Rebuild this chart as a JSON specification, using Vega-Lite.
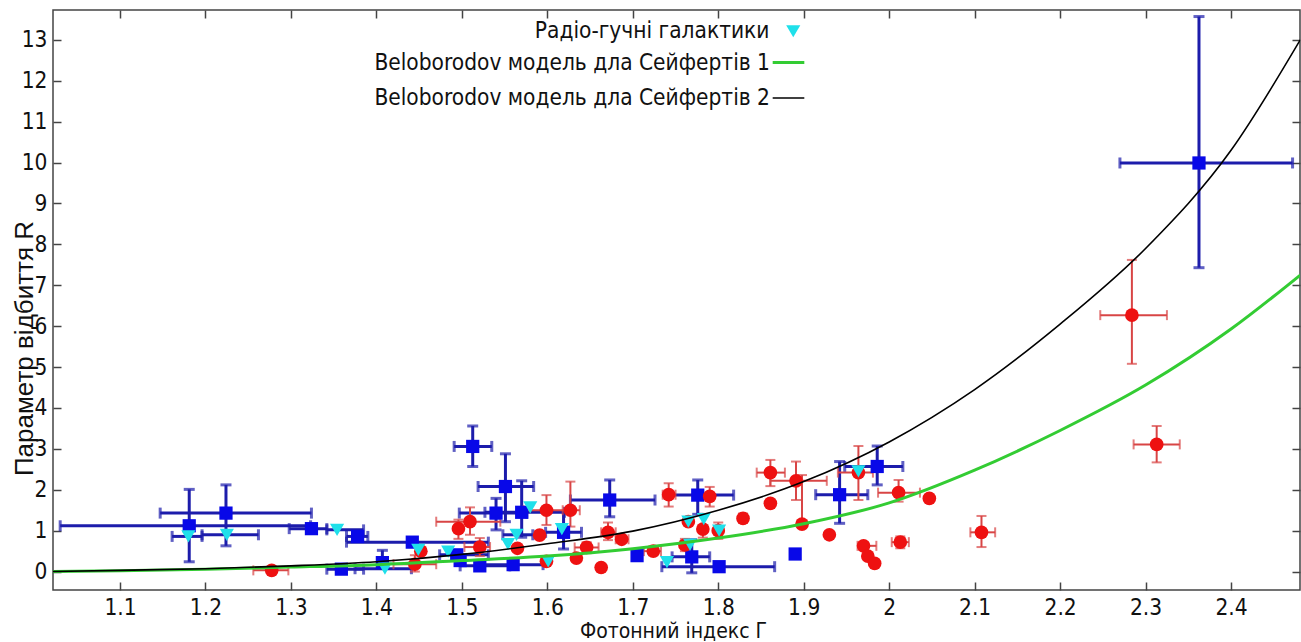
{
  "$schema": "https://vega.github.io/schema/vega-lite/v6.json",
  "width": 1247,
  "height": 580,
  "autosize": {"type": "none"},
  "padding": {"left": 53, "top": 10, "right": 1, "bottom": 52},
  "background": "white",
  "config": {
    "view": {"stroke": "#444444", "strokeWidth": 1.5},
    "font": "DejaVu Sans Condensed, DejaVu Sans",
    "axis": {
      "grid": false,
      "domain": false,
      "tickColor": "#444444",
      "tickWidth": 1.5,
      "tickSize": -8,
      "labelFont": "DejaVu Sans Condensed, DejaVu Sans",
      "labelFontSize": 22.5,
      "labelColor": "#111111",
      "titleFontWeight": "normal",
      "titleColor": "#111111"
    },
    "legend": {
      "labelFont": "DejaVu Sans Condensed, DejaVu Sans",
      "labelFontSize": 22.5,
      "labelColor": "#111111",
      "labelLimit": 0,
      "padding": 0
    }
  },
  "datasets": {
    "pts": [
      {"s": "Сейферти 2", "G": 1.181, "R": 1.12, "Gl": 1.03, "Gh": 1.323, "Rl": 0.24, "Rh": 2.01},
      {"s": "Сейферти 2", "G": 1.224, "R": 1.43, "Gl": 1.147, "Gh": 1.324, "Rl": 0.63, "Rh": 2.12},
      {"s": "Сейферти 2", "G": 1.324, "R": 1.05, "Gl": 1.298, "Gh": 1.342},
      {"s": "Сейферти 2", "G": 1.378, "R": 0.86, "Gl": 1.365, "Gh": 1.39},
      {"s": "Сейферти 2", "G": 1.442, "R": 0.72, "Gl": 1.365, "Gh": 1.531},
      {"s": "Сейферти 2", "G": 1.359, "R": 0.06, "Gl": 1.342, "Gh": 1.385},
      {"s": "Сейферти 2", "G": 1.407, "R": 0.22, "Rl": 0.08, "Rh": 0.52},
      {"s": "Сейферти 2", "G": 1.5127, "R": 3.06, "Gl": 1.491, "Gh": 1.535, "Rl": 2.57, "Rh": 3.56},
      {"s": "Сейферти 2", "G": 1.551, "R": 2.08, "Gl": 1.519, "Gh": 1.584, "Rl": 1.22, "Rh": 2.88},
      {"s": "Сейферти 2", "G": 1.54, "R": 1.43, "Gl": 1.497, "Gh": 1.576, "Rl": 1.02, "Rh": 1.79},
      {"s": "Сейферти 2", "G": 1.57, "R": 1.45, "Gl": 1.527, "Gh": 1.62, "Rl": 0.84, "Rh": 2.22},
      {"s": "Сейферти 2", "G": 1.494, "R": 0.41, "Gl": 1.474, "Gh": 1.531},
      {"s": "Сейферти 2", "G": 1.498, "R": 0.27},
      {"s": "Сейферти 2", "G": 1.521, "R": 0.14, "Gl": 1.498, "Gh": 1.556},
      {"s": "Сейферти 2", "G": 1.56, "R": 0.17, "Gl": 1.521, "Gh": 1.595},
      {"s": "Сейферти 2", "G": 1.619, "R": 0.96, "Gl": 1.598, "Gh": 1.64, "Rl": 0.55, "Rh": 1.47},
      {"s": "Сейферти 2", "G": 1.673, "R": 1.75, "Gl": 1.627, "Gh": 1.726, "Rl": 1.34, "Rh": 2.24},
      {"s": "Сейферти 2", "G": 1.705, "R": 0.39},
      {"s": "Сейферти 2", "G": 1.769, "R": 0.36, "Gl": 1.746, "Gh": 1.79, "Rl": -0.03, "Rh": 0.78},
      {"s": "Сейферти 2", "G": 1.801, "R": 0.12, "Gl": 1.734, "Gh": 1.866},
      {"s": "Сейферти 2", "G": 1.776, "R": 1.87, "Gl": 1.744, "Gh": 1.818, "Rl": 1.4, "Rh": 2.24},
      {"s": "Сейферти 2", "G": 1.89, "R": 0.43},
      {"s": "Сейферти 2", "G": 1.942, "R": 1.88, "Gl": 1.914, "Gh": 1.975, "Rl": 1.18, "Rh": 2.69},
      {"s": "Сейферти 2", "G": 1.986, "R": 2.57, "Gl": 1.948, "Gh": 2.016, "Rl": 2.12, "Rh": 3.07},
      {"s": "Сейферти 2", "G": 2.3625, "R": 9.99, "Gl": 2.27, "Gh": 2.472, "Rl": 7.43, "Rh": 13.57},
      {"s": "Сейферти 1", "G": 1.2775, "R": 0.03, "Gl": 1.256, "Gh": 1.297},
      {"s": "Сейферти 1", "G": 1.445, "R": 0.18, "Gl": 1.42, "Gh": 1.47, "Rl": 0.0, "Rh": 0.4},
      {"s": "Сейферти 1", "G": 1.452, "R": 0.5},
      {"s": "Сейферти 1", "G": 1.5095, "R": 1.22, "Gl": 1.47, "Gh": 1.545, "Rl": 0.9, "Rh": 1.57},
      {"s": "Сейферти 1", "G": 1.496, "R": 1.05, "Rl": 0.8, "Rh": 1.27},
      {"s": "Сейферти 1", "G": 1.521, "R": 0.6, "Gl": 1.503, "Gh": 1.533, "Rl": 0.38, "Rh": 0.82},
      {"s": "Сейферти 1", "G": 1.565, "R": 0.57},
      {"s": "Сейферти 1", "G": 1.599, "R": 1.5, "Gl": 1.572, "Gh": 1.627, "Rl": 1.14, "Rh": 1.87},
      {"s": "Сейферти 1", "G": 1.627, "R": 1.5, "Gl": 1.618, "Gh": 1.638, "Rl": 1.1, "Rh": 2.2},
      {"s": "Сейферти 1", "G": 1.591, "R": 0.89},
      {"s": "Сейферти 1", "G": 1.599, "R": 0.25},
      {"s": "Сейферти 1", "G": 1.634, "R": 0.33},
      {"s": "Сейферти 1", "G": 1.646, "R": 0.59, "Gl": 1.632, "Gh": 1.66, "Rl": 0.45, "Rh": 0.72},
      {"s": "Сейферти 1", "G": 1.663, "R": 0.1},
      {"s": "Сейферти 1", "G": 1.671, "R": 0.96, "Gl": 1.663, "Gh": 1.68, "Rl": 0.77, "Rh": 1.2},
      {"s": "Сейферти 1", "G": 1.687, "R": 0.79, "Gl": 1.68, "Gh": 1.695},
      {"s": "Сейферти 1", "G": 1.724, "R": 0.5, "Gl": 1.713, "Gh": 1.733, "Rl": 0.4, "Rh": 0.62},
      {"s": "Сейферти 1", "G": 1.742, "R": 1.88, "Gl": 1.735, "Gh": 1.75, "Rl": 1.59, "Rh": 2.16},
      {"s": "Сейферти 1", "G": 1.79, "R": 1.84, "Rl": 1.59, "Rh": 2.07},
      {"s": "Сейферти 1", "G": 1.761, "R": 0.65, "Rl": 0.5, "Rh": 0.8},
      {"s": "Сейферти 1", "G": 1.765, "R": 1.22},
      {"s": "Сейферти 1", "G": 1.782, "R": 1.04, "Rl": 0.83, "Rh": 1.41},
      {"s": "Сейферти 1", "G": 1.8, "R": 1.0, "Rl": 0.8, "Rh": 1.2},
      {"s": "Сейферти 1", "G": 1.829, "R": 1.3, "Rl": 1.2, "Rh": 1.42},
      {"s": "Сейферти 1", "G": 1.861, "R": 1.67},
      {"s": "Сейферти 1", "G": 1.861, "R": 2.42, "Gl": 1.845, "Gh": 1.878, "Rl": 2.09, "Rh": 2.73},
      {"s": "Сейферти 1", "G": 1.891, "R": 2.22, "Gl": 1.861, "Gh": 1.927, "Rl": 1.75, "Rh": 2.69},
      {"s": "Сейферти 1", "G": 1.898, "R": 1.16, "Rl": 1.16, "Rh": 2.36},
      {"s": "Сейферти 1", "G": 1.93, "R": 0.9},
      {"s": "Сейферти 1", "G": 1.964, "R": 2.42, "Gl": 1.94, "Gh": 1.981, "Rl": 1.75, "Rh": 3.07},
      {"s": "Сейферти 1", "G": 2.011, "R": 1.93, "Gl": 1.987, "Gh": 2.036, "Rl": 1.71, "Rh": 2.24},
      {"s": "Сейферти 1", "G": 2.047, "R": 1.79},
      {"s": "Сейферти 1", "G": 1.97, "R": 0.63, "Gl": 1.963, "Gh": 1.985, "Rl": 0.55, "Rh": 0.72},
      {"s": "Сейферти 1", "G": 1.975, "R": 0.38},
      {"s": "Сейферти 1", "G": 1.983, "R": 0.2},
      {"s": "Сейферти 1", "G": 2.013, "R": 0.72, "Gl": 2.003, "Gh": 2.023, "Rl": 0.57, "Rh": 0.86},
      {"s": "Сейферти 1", "G": 2.108, "R": 0.96, "Gl": 2.095, "Gh": 2.124, "Rl": 0.6, "Rh": 1.36},
      {"s": "Сейферти 1", "G": 2.284, "R": 6.27, "Gl": 2.247, "Gh": 2.325, "Rl": 5.08, "Rh": 7.62},
      {"s": "Сейферти 1", "G": 2.313, "R": 3.11, "Gl": 2.286, "Gh": 2.34, "Rl": 2.67, "Rh": 3.56},
      {"s": "Радіо-гучні галактики", "G": 1.18, "R": 0.86, "Gl": 1.161, "Gh": 1.196},
      {"s": "Радіо-гучні галактики", "G": 1.225, "R": 0.9, "Gl": 1.196, "Gh": 1.262},
      {"s": "Радіо-гучні галактики", "G": 1.354, "R": 1.02, "Gl": 1.342, "Gh": 1.385},
      {"s": "Радіо-гучні галактики", "G": 1.41, "R": 0.07, "Gl": 1.375, "Gh": 1.441},
      {"s": "Радіо-гучні галактики", "G": 1.449, "R": 0.53},
      {"s": "Радіо-гучні галактики", "G": 1.484, "R": 0.49},
      {"s": "Радіо-гучні галактики", "G": 1.554, "R": 0.67},
      {"s": "Радіо-гучні галактики", "G": 1.564, "R": 0.9, "Gl": 1.548, "Gh": 1.583},
      {"s": "Радіо-гучні галактики", "G": 1.58, "R": 1.57},
      {"s": "Радіо-гучні галактики", "G": 1.617, "R": 1.04},
      {"s": "Радіо-гучні галактики", "G": 1.601, "R": 0.25},
      {"s": "Радіо-гучні галактики", "G": 1.74, "R": 0.23},
      {"s": "Радіо-гучні галактики", "G": 1.767, "R": 0.66},
      {"s": "Радіо-гучні галактики", "G": 1.765, "R": 1.22},
      {"s": "Радіо-гучні галактики", "G": 1.783, "R": 1.28},
      {"s": "Радіо-гучні галактики", "G": 1.801, "R": 1.0},
      {"s": "Радіо-гучні галактики", "G": 1.964, "R": 2.45}
    ],
    "curves": [
      {"m": "Beloborodov модель дла Сейфертів 1", "G": 1.02, "R": 0.0},
      {"m": "Beloborodov модель дла Сейфертів 1", "G": 1.1, "R": 0.02},
      {"m": "Beloborodov модель дла Сейфертів 1", "G": 1.2, "R": 0.06},
      {"m": "Beloborodov модель дла Сейфертів 1", "G": 1.3, "R": 0.11},
      {"m": "Beloborodov модель дла Сейфертів 1", "G": 1.4, "R": 0.17},
      {"m": "Beloborodov модель дла Сейфертів 1", "G": 1.5, "R": 0.27},
      {"m": "Beloborodov модель дла Сейфертів 1", "G": 1.6, "R": 0.38},
      {"m": "Beloborodov модель дла Сейфертів 1", "G": 1.7, "R": 0.56},
      {"m": "Beloborodov модель дла Сейфертів 1", "G": 1.8, "R": 0.82},
      {"m": "Beloborodov модель дла Сейфертів 1", "G": 1.9, "R": 1.17},
      {"m": "Beloborodov модель дла Сейфертів 1", "G": 2.0, "R": 1.68},
      {"m": "Beloborodov модель дла Сейфертів 1", "G": 2.1, "R": 2.48},
      {"m": "Beloborodov модель дла Сейфертів 1", "G": 2.2, "R": 3.45},
      {"m": "Beloborodov модель дла Сейфертів 1", "G": 2.3, "R": 4.56},
      {"m": "Beloborodov модель дла Сейфертів 1", "G": 2.4, "R": 5.93},
      {"m": "Beloborodov модель дла Сейфертів 1", "G": 2.481, "R": 7.25},
      {"m": "Beloborodov модель дла Сейфертів 2", "G": 1.02, "R": 0.0},
      {"m": "Beloborodov модель дла Сейфертів 2", "G": 1.1, "R": 0.03},
      {"m": "Beloborodov модель дла Сейфертів 2", "G": 1.2, "R": 0.07},
      {"m": "Beloborodov модель дла Сейфертів 2", "G": 1.3, "R": 0.14},
      {"m": "Beloborodov модель дла Сейфертів 2", "G": 1.4, "R": 0.24},
      {"m": "Beloborodov модель дла Сейфертів 2", "G": 1.5, "R": 0.42},
      {"m": "Beloborodov модель дла Сейфертів 2", "G": 1.6, "R": 0.68},
      {"m": "Beloborodov модель дла Сейфертів 2", "G": 1.7, "R": 0.99},
      {"m": "Beloborodov модель дла Сейфертів 2", "G": 1.8, "R": 1.5},
      {"m": "Beloborodov модель дла Сейфертів 2", "G": 1.9, "R": 2.2},
      {"m": "Beloborodov модель дла Сейфертів 2", "G": 2.0, "R": 3.17},
      {"m": "Beloborodov модель дла Сейфертів 2", "G": 2.1, "R": 4.45},
      {"m": "Beloborodov модель дла Сейфертів 2", "G": 2.2, "R": 6.05},
      {"m": "Beloborodov модель дла Сейфертів 2", "G": 2.3, "R": 7.9},
      {"m": "Beloborodov модель дла Сейфертів 2", "G": 2.4, "R": 10.3},
      {"m": "Beloborodov модель дла Сейфертів 2", "G": 2.481, "R": 13.0}
    ]
  },
  "resolve": {"axis": {"x": "independent", "y": "independent"}},
  "layer": [
    {
      "data": {"name": "pts"},
      "transform": [{"filter": "isValid(datum.Gl) && datum.s != 'Сейферти 1'"}],
      "mark": {"type": "errorbar", "ticks": true, "size": 11, "thickness": 3, "color": "#1c1cab", "clip": true},
      "encoding": {
        "x": {"field": "Gl", "type": "quantitative", "scale": {"domain": [1.0216, 2.4807], "nice": false, "zero": false}, "axis": null},
        "x2": {"field": "Gh"},
        "y": {"field": "R", "type": "quantitative", "scale": {"domain": [-0.45, 13.73], "nice": false, "zero": false}, "axis": null}
      }
    },
    {
      "data": {"name": "pts"},
      "transform": [{"filter": "isValid(datum.Rl) && datum.s != 'Сейферти 1'"}],
      "mark": {"type": "errorbar", "ticks": true, "size": 11, "thickness": 3, "color": "#1c1cab", "clip": true},
      "encoding": {
        "x": {"field": "G", "type": "quantitative", "scale": {"domain": [1.0216, 2.4807], "nice": false, "zero": false}, "axis": null},
        "y": {"field": "Rl", "type": "quantitative", "scale": {"domain": [-0.45, 13.73], "nice": false, "zero": false}, "axis": null},
        "y2": {"field": "Rh"}
      }
    },
    {
      "data": {"name": "pts"},
      "transform": [{"filter": "isValid(datum.Gl) && datum.s == 'Сейферти 1'"}],
      "mark": {"type": "errorbar", "ticks": true, "size": 10, "thickness": 2, "color": "#d84545", "clip": true},
      "encoding": {
        "x": {"field": "Gl", "type": "quantitative", "scale": {"domain": [1.0216, 2.4807], "nice": false, "zero": false}, "axis": null},
        "x2": {"field": "Gh"},
        "y": {"field": "R", "type": "quantitative", "scale": {"domain": [-0.45, 13.73], "nice": false, "zero": false}, "axis": null}
      }
    },
    {
      "data": {"name": "pts"},
      "transform": [{"filter": "isValid(datum.Rl) && datum.s == 'Сейферти 1'"}],
      "mark": {"type": "errorbar", "ticks": true, "size": 10, "thickness": 2, "color": "#d84545", "clip": true},
      "encoding": {
        "x": {"field": "G", "type": "quantitative", "scale": {"domain": [1.0216, 2.4807], "nice": false, "zero": false}, "axis": null},
        "y": {"field": "Rl", "type": "quantitative", "scale": {"domain": [-0.45, 13.73], "nice": false, "zero": false}, "axis": null},
        "y2": {"field": "Rh"}
      }
    },
    {
      "data": {"name": "pts"},
      "mark": {"type": "point", "filled": true, "opacity": 1, "strokeWidth": 0, "clip": true},
      "encoding": {
        "x": {
          "field": "G", "type": "quantitative",
          "scale": {"domain": [1.0216, 2.4807], "nice": false, "zero": false},
          "axis": {
            "orient": "bottom",
            "values": [1.1, 1.2, 1.3, 1.4, 1.5, 1.6, 1.7, 1.8, 1.9, 2.0, 2.1, 2.2, 2.3, 2.4],
            "format": "~g",
            "labelPadding": 14,
            "title": "Фотонний індекс Г",
            "titleFont": "DejaVu Sans Condensed, DejaVu Sans",
            "titleFontSize": 21,
            "titleX": 620,
            "titleY": 51.5,
            "titleAlign": "center",
            "titleBaseline": "bottom"
          }
        },
        "y": {
          "field": "R", "type": "quantitative",
          "scale": {"domain": [-0.45, 13.73], "nice": false, "zero": false},
          "axis": {
            "orient": "left",
            "values": [0, 1, 2, 3, 4, 5, 6, 7, 8, 9, 10, 11, 12, 13],
            "labelPadding": 14,
            "title": "Параметр відбиття R",
            "titleFont": "Liberation Sans",
            "titleFontSize": 26,
            "titleAngle": 270,
            "titleX": -21,
            "titleY": 338,
            "titleAlign": "center",
            "titleBaseline": "alphabetic"
          }
        },
        "color": {
          "field": "s", "type": "nominal",
          "scale": {"domain": ["Сейферти 2", "Сейферти 1", "Радіо-гучні галактики"], "range": ["#0808e8", "#ee1111", "#1fe0ea"]},
          "legend": {"title": null, "orient": "none", "legendX": 729, "legendY": 10, "values": ["Радіо-гучні галактики"], "labelAlign": "right", "labelOffset": -35}
        },
        "shape": {
          "field": "s", "type": "nominal",
          "scale": {"domain": ["Сейферти 2", "Сейферти 1", "Радіо-гучні галактики"], "range": ["square", "circle", "triangle-down"]},
          "legend": {"title": null, "orient": "none", "legendX": 729, "legendY": 10, "values": ["Радіо-гучні галактики"], "labelAlign": "right", "labelOffset": -35}
        },
        "size": {
          "field": "s", "type": "nominal",
          "scale": {"domain": ["Сейферти 2", "Сейферти 1", "Радіо-гучні галактики"], "range": [175, 200, 220]},
          "legend": {"title": null, "orient": "none", "legendX": 729, "legendY": 10, "values": ["Радіо-гучні галактики"], "labelAlign": "right", "labelOffset": -35}
        }
      }
    },
    {
      "data": {"name": "curves"},
      "mark": {"type": "line", "interpolate": "monotone", "clip": true},
      "encoding": {
        "x": {
          "field": "G", "type": "quantitative",
          "scale": {"domain": [1.0216, 2.4807], "nice": false, "zero": false},
          "axis": {"orient": "top", "labels": false, "title": null, "values": [1.1, 1.2, 1.3, 1.4, 1.5, 1.6, 1.7, 1.8, 1.9, 2.0, 2.1, 2.2, 2.3, 2.4]}
        },
        "y": {
          "field": "R", "type": "quantitative",
          "scale": {"domain": [-0.45, 13.73], "nice": false, "zero": false},
          "axis": {"orient": "right", "labels": false, "title": null, "values": [0, 1, 2, 3, 4, 5, 6, 7, 8, 9, 10, 11, 12, 13]}
        },
        "stroke": {
          "field": "m", "type": "nominal",
          "scale": {"domain": ["Beloborodov модель дла Сейфертів 1", "Beloborodov модель дла Сейфертів 2"], "range": ["#33cc33", "#000000"]},
          "legend": {"title": null, "orient": "none", "legendX": 718, "legendY": 35, "labelAlign": "right", "labelOffset": -36, "symbolSize": 1000, "rowPadding": 7}
        },
        "strokeWidth": {
          "field": "m", "type": "ordinal",
          "scale": {"domain": ["Beloborodov модель дла Сейфертів 1", "Beloborodov модель дла Сейфертів 2"], "range": [3, 1.6]},
          "legend": {"title": null, "orient": "none", "legendX": 718, "legendY": 35, "labelAlign": "right", "labelOffset": -36, "symbolSize": 1000, "rowPadding": 7}
        }
      }
    }
  ]
}
